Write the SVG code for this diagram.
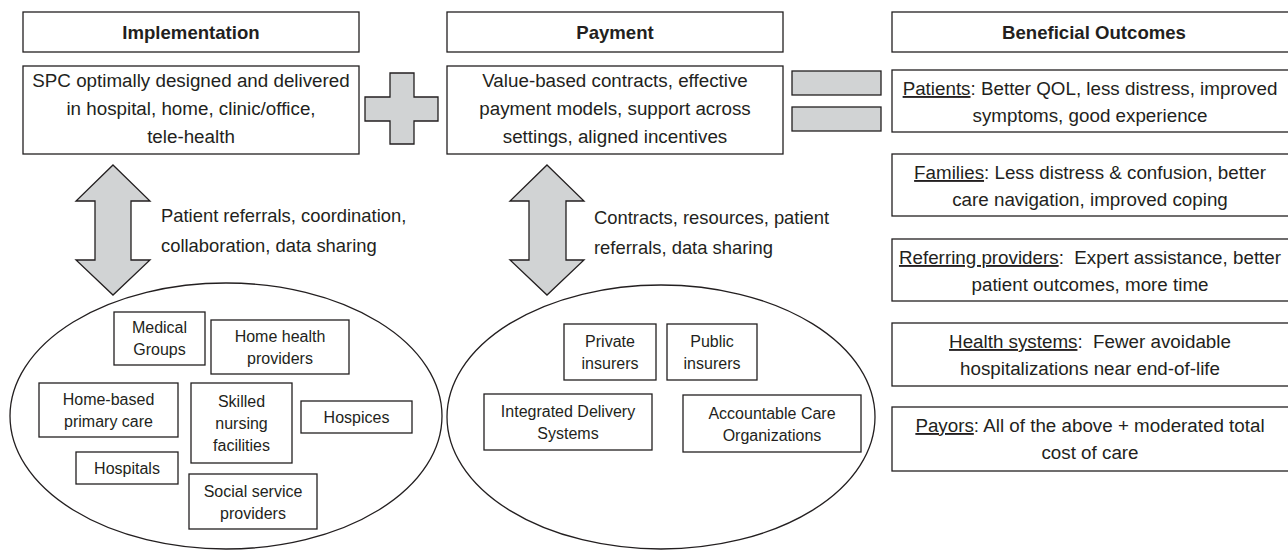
<svg xmlns="http://www.w3.org/2000/svg" width="1288" height="551" viewBox="0 0 1288 551">
  <style>
    text { font-family: "Liberation Sans", Arial, Helvetica, sans-serif; fill: #231f20; text-anchor: middle; }
    .hdr { font-size: 18.6px; font-weight: bold; }
    .body { font-size: 18.8px; }
    .small { font-size: 16px; }
    .side { font-size: 18.4px; text-anchor: start; }
    .box { fill: #ffffff; stroke: #231f20; stroke-width: 1.3; }
    .shape { fill: #d1d3d4; stroke: #231f20; stroke-width: 1.3; }
    .oval { fill: #ffffff; stroke: #231f20; stroke-width: 1.3; }
    .u { text-decoration: underline; }
    .pre { white-space: pre; }
  </style>

  <!-- Column headers -->
  <g id="hdr-implementation">
    <rect class="box" x="23" y="12" width="336" height="40"/>
    <text class="hdr" x="191" y="39">Implementation</text>
  </g>
  <g id="hdr-payment">
    <rect class="box" x="447" y="12" width="336" height="40"/>
    <text class="hdr" x="615" y="39">Payment</text>
  </g>
  <g id="hdr-outcomes">
    <rect class="box" x="892" y="12" width="404" height="40"/>
    <text class="hdr" x="1094" y="39">Beneficial Outcomes</text>
  </g>

  <!-- Top statement boxes -->
  <g id="spc">
    <rect class="box" x="23" y="66" width="336" height="88"/>
    <text class="body" x="191" y="87">SPC optimally designed and delivered</text>
    <text class="body" x="191" y="115">in hospital, home, clinic/office,</text>
    <text class="body" x="191" y="143">tele-health</text>
  </g>
  <g id="value">
    <rect class="box" x="447" y="66" width="336" height="88"/>
    <text class="body" x="615" y="87">Value-based contracts, effective</text>
    <text class="body" x="615" y="115">payment models, support across</text>
    <text class="body" x="615" y="143">settings, aligned incentives</text>
  </g>

  <!-- Operators -->
  <g id="plus">
    <path class="shape" d="M390,73 H414 V97 H438 V121 H414 V144 H390 V121 H365 V97 H390 Z"/>
  </g>
  <g id="equals">
    <rect class="shape" x="792" y="71" width="89" height="24"/>
    <rect class="shape" x="792" y="107" width="89" height="24"/>
  </g>

  <!-- Outcome boxes -->
  <g id="patients">
    <rect class="box" x="892" y="70" width="404" height="62"/>
    <text class="body" x="1090" y="95"><tspan class="u">Patients</tspan>: Better QOL, less distress, improved</text>
    <text class="body" x="1090" y="122">symptoms, good experience</text>
  </g>
  <g id="families">
    <rect class="box" x="892" y="154" width="404" height="62"/>
    <text class="body" x="1090" y="179"><tspan class="u">Families</tspan>: Less distress &amp; confusion, better</text>
    <text class="body" x="1090" y="206">care navigation, improved coping</text>
  </g>
  <g id="referring">
    <rect class="box" x="892" y="239" width="404" height="62"/>
    <text class="body pre" x="1090" y="264"><tspan class="u">Referring providers</tspan>:  Expert assistance, better</text>
    <text class="body" x="1090" y="291">patient outcomes, more time</text>
  </g>
  <g id="health-systems">
    <rect class="box" x="892" y="323" width="404" height="63"/>
    <text class="body pre" x="1090" y="348"><tspan class="u">Health systems</tspan>:  Fewer avoidable</text>
    <text class="body" x="1090" y="375">hospitalizations near end-of-life</text>
  </g>
  <g id="payors">
    <rect class="box" x="892" y="407" width="404" height="64"/>
    <text class="body" x="1090" y="432"><tspan class="u">Payors</tspan>: All of the above + moderated total</text>
    <text class="body" x="1090" y="459">cost of care</text>
  </g>

  <!-- Provider ecosystem -->
  <g id="providers">
    <ellipse class="oval" cx="226" cy="416" rx="216" ry="133"/>
    <g id="medical-groups">
      <rect class="box" x="114" y="312" width="91" height="53"/>
      <text class="small" x="159.5" y="333">Medical</text>
      <text class="small" x="159.5" y="355">Groups</text>
    </g>
    <g id="home-health">
      <rect class="box" x="211" y="320" width="138" height="54"/>
      <text class="small" x="280" y="342">Home health</text>
      <text class="small" x="280" y="364">providers</text>
    </g>
    <g id="home-based">
      <rect class="box" x="39" y="383" width="139" height="54"/>
      <text class="small" x="108.5" y="405">Home-based</text>
      <text class="small" x="108.5" y="427">primary care</text>
    </g>
    <g id="snf">
      <rect class="box" x="191" y="383" width="101" height="80"/>
      <text class="small" x="241.5" y="407">Skilled</text>
      <text class="small" x="241.5" y="429">nursing</text>
      <text class="small" x="241.5" y="451">facilities</text>
    </g>
    <g id="hospices">
      <rect class="box" x="301" y="401" width="111" height="32"/>
      <text class="small" x="356.5" y="423">Hospices</text>
    </g>
    <g id="hospitals">
      <rect class="box" x="76" y="452" width="102" height="32"/>
      <text class="small" x="127" y="474">Hospitals</text>
    </g>
    <g id="social-service">
      <rect class="box" x="189" y="474" width="128" height="55"/>
      <text class="small" x="253" y="496.5">Social service</text>
      <text class="small" x="253" y="518.5">providers</text>
    </g>
  </g>

  <!-- Payer ecosystem -->
  <g id="payers">
    <ellipse class="oval" cx="661" cy="417" rx="214" ry="132"/>
    <g id="private-insurers">
      <rect class="box" x="564" y="324" width="92" height="56"/>
      <text class="small" x="610" y="347">Private</text>
      <text class="small" x="610" y="369">insurers</text>
    </g>
    <g id="public-insurers">
      <rect class="box" x="667" y="324" width="90" height="56"/>
      <text class="small" x="712" y="347">Public</text>
      <text class="small" x="712" y="369">insurers</text>
    </g>
    <g id="ids">
      <rect class="box" x="484" y="394" width="168" height="56"/>
      <text class="small" x="568" y="417">Integrated Delivery</text>
      <text class="small" x="568" y="439">Systems</text>
    </g>
    <g id="aco">
      <rect class="box" x="683" y="395" width="178" height="57"/>
      <text class="small" x="772" y="418.5">Accountable Care</text>
      <text class="small" x="772" y="440.5">Organizations</text>
    </g>
  </g>

  <!-- Two-way exchange arrows with their labels -->
  <g id="connectors">
    <path class="shape" d="M113,165 L150,201 L131,201 L131,260 L150,260 L113,295 L76,260 L95,260 L95,201 L76,201 Z"/>
    <path class="shape" d="M547,165 L584,201 L566,201 L566,260 L584,260 L547,295 L510,260 L529,260 L529,201 L510,201 Z"/>
    <text class="side" x="161" y="222">Patient referrals, coordination,</text>
    <text class="side" x="161" y="252">collaboration, data sharing</text>
    <text class="side" x="594" y="224">Contracts, resources, patient</text>
    <text class="side" x="594" y="254">referrals, data sharing</text>
  </g>
</svg>
